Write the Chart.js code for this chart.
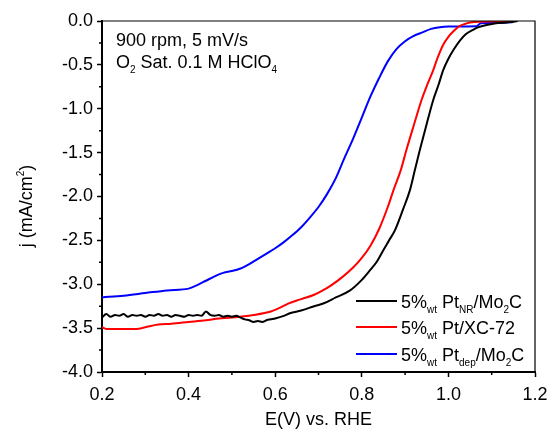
<!DOCTYPE html>
<html>
<head>
<meta charset="utf-8">
<script src="https://cdn.jsdelivr.net/npm/chart.js@4.4.1/dist/chart.umd.min.js"></script>
<style>
  html, body { margin: 0; padding: 0; background: #fff; }
  #wrap { width: 549px; height: 430px; }
</style>
</head>
<body>
<div id="wrap"><canvas id="myChart" width="549" height="430"></canvas></div>
<script>
// Datos: potencial E (V vs. RHE) y densidad de corriente j (mA/cm2)
var ptNrE = [0.20, 0.21, 0.22, 0.23, 0.24, 0.25, 0.26, 0.27, 0.28, 0.29, 0.30, 0.31, 0.32, 0.33, 0.34, 0.35, 0.36, 0.37, 0.38, 0.39, 0.40,
  0.41, 0.42, 0.43, 0.44, 0.45, 0.46, 0.47, 0.48, 0.49, 0.50, 0.51, 0.52, 0.53, 0.54, 0.55, 0.56, 0.57, 0.58, 0.59, 0.60,
  0.62, 0.634, 0.66, 0.69, 0.711, 0.74, 0.773, 0.80, 0.819, 0.835, 0.85, 0.863, 0.877, 0.895, 0.911, 0.922, 0.934, 0.95,
  0.965, 0.977, 0.988, 1.00, 1.013, 1.027, 1.04, 1.057, 1.07, 1.088, 1.11, 1.14, 1.16];
var ptNrJ = [-3.38, -3.34, -3.37, -3.35, -3.36, -3.34, -3.37, -3.35, -3.36, -3.35, -3.37, -3.35, -3.36, -3.34, -3.36, -3.35, -3.37, -3.35, -3.36, -3.37, -3.35,
  -3.36, -3.35, -3.36, -3.31, -3.35, -3.36, -3.35, -3.37, -3.36, -3.37, -3.36, -3.38, -3.40, -3.41, -3.43, -3.42, -3.43, -3.41, -3.40, -3.39,
  -3.36, -3.33, -3.30, -3.25, -3.22, -3.15, -3.07, -2.95, -2.84, -2.74, -2.61, -2.50, -2.38, -2.15, -1.93, -1.71, -1.47, -1.17,
  -0.90, -0.73, -0.56, -0.43, -0.32, -0.22, -0.15, -0.10, -0.07, -0.046, -0.025, -0.015, 0];

var ptXcE = [0.20, 0.21, 0.28, 0.30, 0.33, 0.36, 0.40, 0.44, 0.47, 0.50, 0.55, 0.59, 0.61, 0.63, 0.66, 0.69, 0.71, 0.73, 0.757, 0.78,
  0.80, 0.82, 0.84, 0.86, 0.873, 0.89, 0.903, 0.92, 0.938, 0.95, 0.965, 0.975, 0.988, 1.00, 1.011, 1.025, 1.042, 1.06, 1.10, 1.15];
var ptXcJ = [-3.49, -3.51, -3.51, -3.49, -3.46, -3.45, -3.43, -3.41, -3.39, -3.38, -3.35, -3.31, -3.27, -3.22, -3.17, -3.12, -3.07, -3.01, -2.91, -2.81,
  -2.70, -2.56, -2.37, -2.12, -1.93, -1.70, -1.47, -1.19, -0.90, -0.74, -0.56, -0.42, -0.27, -0.18, -0.12, -0.06, -0.027, -0.012, -0.005, 0];

var ptDepE = [0.20, 0.25, 0.30, 0.35, 0.40, 0.42, 0.44, 0.46, 0.48, 0.50, 0.52, 0.54, 0.56, 0.58, 0.60, 0.62, 0.64, 0.66, 0.68, 0.70,
  0.72, 0.74, 0.76, 0.78, 0.80, 0.82, 0.84, 0.86, 0.88, 0.90, 0.92, 0.94, 0.96, 0.98, 1.00, 1.065, 1.075, 1.12, 1.15];
var ptDepJ = [-3.15, -3.13, -3.10, -3.07, -3.05, -3.01, -2.96, -2.91, -2.87, -2.85, -2.82, -2.77, -2.71, -2.65, -2.59, -2.52, -2.44, -2.35, -2.24, -2.12,
  -1.97, -1.79, -1.56, -1.34, -1.10, -0.86, -0.65, -0.46, -0.32, -0.23, -0.17, -0.13, -0.09, -0.07, -0.063, -0.06, -0.027, -0.02, -0.01];

var seriesColors = ["#000000", "#ff0000", "#0000ff"];
// Etiquetas de la leyenda: [texto, estilo] ("" normal, "sub" subindice, "sup" superindice)
var seriesLabels = [
  [["5%", ""], ["wt", "sub"], [" Pt", ""], ["NR", "sub"], ["/Mo", ""], ["2", "sub"], ["C", ""]],
  [["5%", ""], ["wt", "sub"], [" Pt/XC-72", ""]],
  [["5%", ""], ["wt", "sub"], [" Pt", ""], ["dep", "sub"], ["/Mo", ""], ["2", "sub"], ["C", ""]]
];
var noteLine1 = [["900 rpm, 5 mV/s", ""]];
var noteLine2 = [["O", ""], ["2", "sub"], [" Sat. 0.1 M HClO", ""], ["4", "sub"]];

var xTitle = [["E(V) vs. RHE", ""]];
var yTitle = [["j (mA/cm", ""], ["2", "sup"], [")", ""]];

var FONT = "'Liberation Sans', Arial, sans-serif";

function toPoints(e, j) {
  return e.map(function (v, i) { return { x: v, y: j[i] }; });
}

function richWidth(ctx, parts, size) {
  var w = 0;
  parts.forEach(function (p) {
    ctx.font = (p[1] ? Math.round(size * 0.58) : size) + "px " + FONT;
    w += ctx.measureText(p[0]).width;
  });
  return w;
}

function drawRich(ctx, parts, x, y, size) {
  var cx = x;
  parts.forEach(function (p) {
    var dy = 0;
    if (p[1]) {
      ctx.font = Math.round(size * 0.58) + "px " + FONT;
      dy = p[1] === "sub" ? size * 0.28 : -size * 0.45;
    } else {
      ctx.font = size + "px " + FONT;
    }
    ctx.fillText(p[0], cx, y + dy);
    cx += ctx.measureText(p[0]).width;
  });
}

// Marco, marcas menores, titulos, texto y leyenda
var extras = {
  id: "extras",
  afterDraw: function (chart) {
    var ctx = chart.ctx;
    var a = chart.chartArea;
    var xs = chart.scales.x;
    var ys = chart.scales.y;
    ctx.save();
    ctx.strokeStyle = "#000";
    ctx.lineWidth = 1.2;
    ctx.beginPath();
    ctx.moveTo(a.left, a.top);
    ctx.lineTo(a.right, a.top);
    ctx.lineTo(a.right, a.bottom);
    ctx.stroke();

    ctx.lineWidth = 1.5;
    ctx.beginPath();
    for (var v = 0.3; v < 1.2; v += 0.2) {
      var px = xs.getPixelForValue(v);
      ctx.moveTo(px, a.bottom);
      ctx.lineTo(px, a.bottom + 3);
    }
    for (var w = -0.25; w > -4; w -= 0.5) {
      var py = ys.getPixelForValue(w);
      ctx.moveTo(a.left, py);
      ctx.lineTo(a.left - 3, py);
    }
    ctx.stroke();

    ctx.fillStyle = "#000";
    ctx.textBaseline = "alphabetic";
    ctx.textAlign = "left";

    // titulos de los ejes
    var xw = richWidth(ctx, xTitle, 18);
    drawRich(ctx, xTitle, (a.left + a.right) / 2 - xw / 2, 425, 18);
    var yw = richWidth(ctx, yTitle, 18);
    ctx.save();
    ctx.translate(32, 206);
    ctx.rotate(-Math.PI / 2);
    drawRich(ctx, yTitle, -yw / 2, 0, 18);
    ctx.restore();

    drawRich(ctx, noteLine1, a.left + 14, 46, 18);
    drawRich(ctx, noteLine2, a.left + 14, 68, 18);

    var rows = [301, 327, 354];
    seriesLabels.forEach(function (parts, i) {
      ctx.strokeStyle = seriesColors[i];
      ctx.lineWidth = 2;
      ctx.beginPath();
      ctx.moveTo(356, rows[i]);
      ctx.lineTo(397, rows[i]);
      ctx.stroke();
      ctx.fillStyle = "#000";
      drawRich(ctx, parts, 401, rows[i] + 6.5, 18);
    });
    ctx.restore();
  }
};

var canvas = document.getElementById("myChart");
var ctx = canvas.getContext("2d");
var myChart = new Chart(ctx, {
  type: "line",
  data: {
    datasets: [
      { data: toPoints(ptNrE, ptNrJ), borderColor: seriesColors[0] },
      { data: toPoints(ptXcE, ptXcJ), borderColor: seriesColors[1] },
      { data: toPoints(ptDepE, ptDepJ), borderColor: seriesColors[2] }
    ]
  },
  options: {
    responsive: false,
    animation: false,
    events: [],
    layout: { padding: { left: 0, right: 14, top: 21, bottom: 0 } },
    elements: {
      point: { radius: 0 },
      line: { borderWidth: 2, cubicInterpolationMode: "monotone", fill: false }
    },
    plugins: { legend: { display: false }, tooltip: { enabled: false } },
    scales: {
      x: {
        type: "linear",
        min: 0.2,
        max: 1.2,
        afterFit: function (s) { s.height = 58; s.paddingLeft = 0; s.paddingRight = 0; },
        border: { display: true, color: "#000", width: 2 },
        grid: { drawOnChartArea: false, drawTicks: true, tickLength: 5, tickWidth: 1.5, tickColor: "#000" },
        ticks: {
          stepSize: 0.2,
          padding: 7,
          color: "#000",
          font: { family: FONT, size: 18 },
          maxRotation: 0,
          callback: function (v) { return v.toFixed(1); }
        }
      },
      y: {
        min: -4,
        max: 0,
        afterFit: function (s) { s.width = 102; s.paddingTop = 0; s.paddingBottom = 0; },
        border: { display: true, color: "#000", width: 2 },
        grid: { drawOnChartArea: false, drawTicks: true, tickLength: 5, tickWidth: 1.5, tickColor: "#000" },
        ticks: {
          stepSize: 0.5,
          padding: 4,
          color: "#000",
          font: { family: FONT, size: 18 },
          callback: function (v) { return v.toFixed(1); }
        }
      }
    }
  },
  plugins: [extras]
});
</script>
</body>
</html>
